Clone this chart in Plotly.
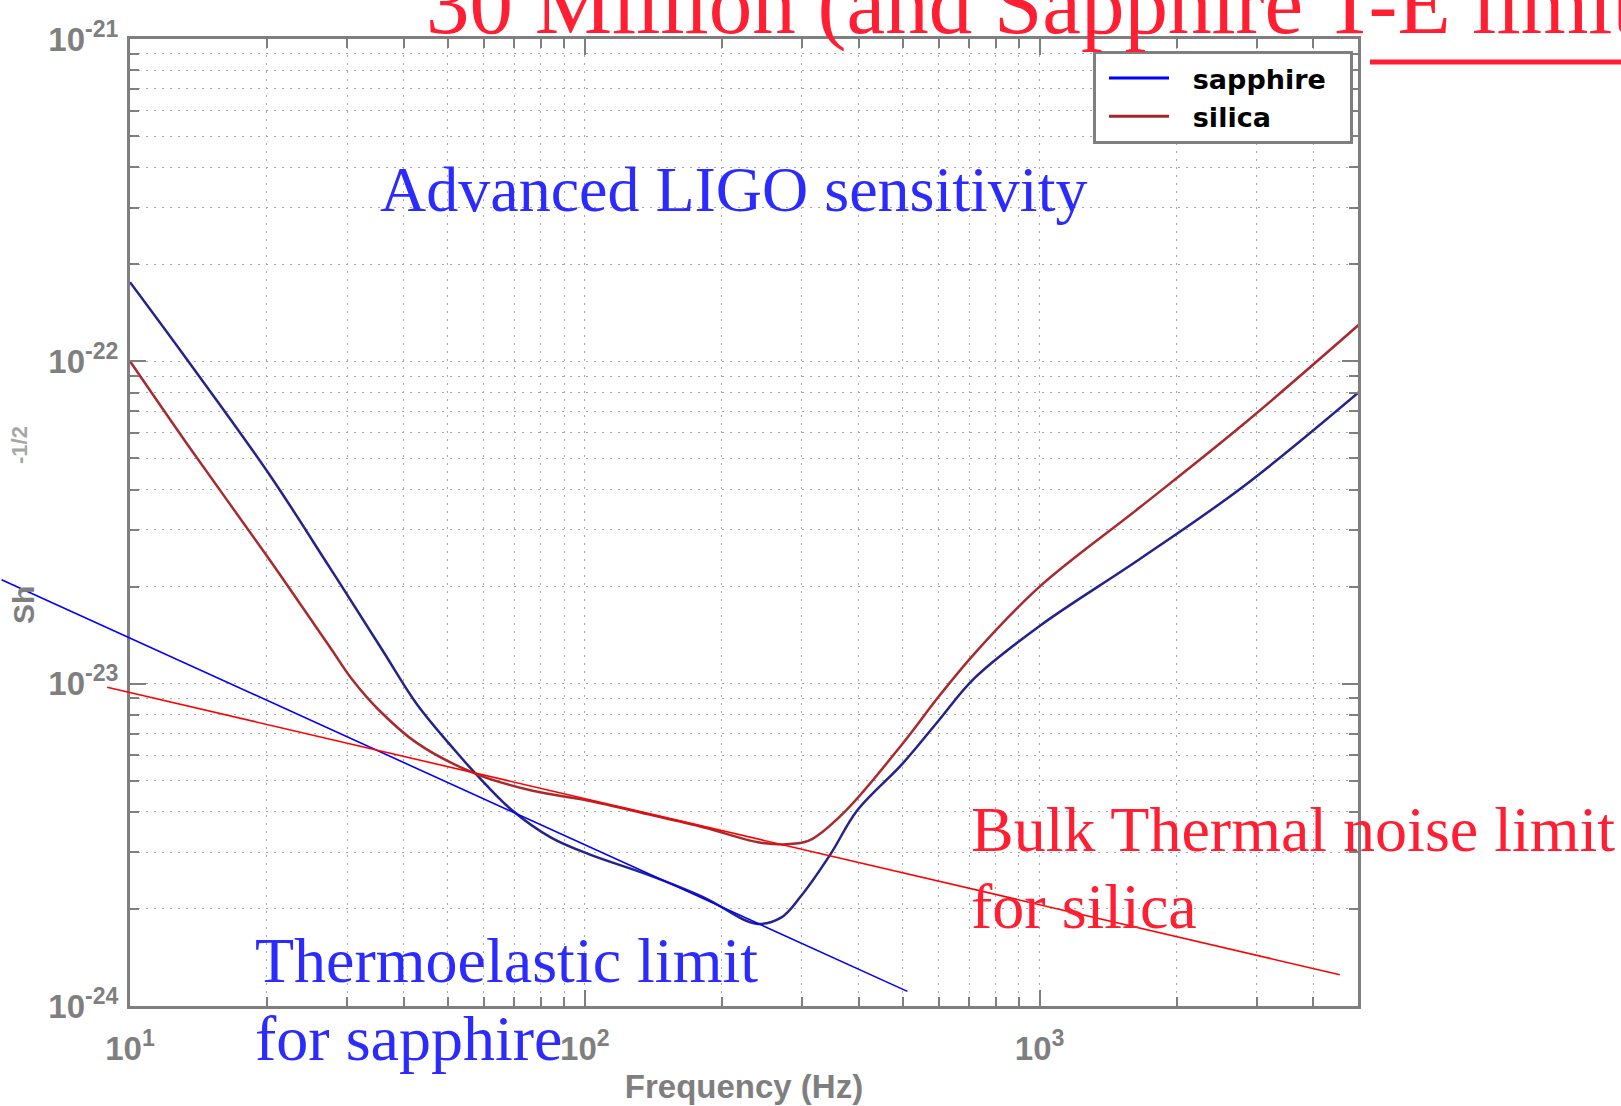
import plotly.graph_objects as go

# ---------------------------------------------------------------- data
# Advanced LIGO strain sensitivity (1/sqrt(Hz)) for the two test-mass materials
freq_sapphire = [10, 13.1, 20.2, 27.5, 35.9, 42.7, 51.9, 57.6, 69.3, 84.3, 102, 137,
                 183, 238, 270, 297, 347, 397, 499, 600, 719, 1000, 1664, 2805, 5070]
h_sapphire = [1.76e-22, 1.05e-22, 4.48e-23, 2.29e-23, 1.27e-23, 8.65e-24, 6.19e-24,
              5.25e-24, 4.04e-24, 3.33e-24, 2.96e-24, 2.56e-24, 2.17e-24, 1.80e-24,
              1.88e-24, 2.17e-24, 2.96e-24, 4.04e-24, 5.64e-24, 7.69e-24, 1.04e-23,
              1.51e-23, 2.44e-23, 4.09e-23, 8.09e-23]

freq_silica = [10, 13.4, 20.2, 27.6, 30.8, 35.2, 42.7, 57.6, 76.4, 102, 137, 183, 244,
               291, 315, 375, 499, 600, 719, 1000, 1664, 2805, 5070]
h_silica = [1.0e-22, 5.5e-23, 2.44e-23, 1.29e-23, 1.03e-23, 8.3e-24, 6.55e-24,
            5.25e-24, 4.66e-24, 4.33e-24, 3.94e-24, 3.58e-24, 3.21e-24, 3.19e-24,
            3.29e-24, 4.04e-24, 6.50e-24, 9.12e-24, 1.24e-23, 2.0e-23, 3.53e-23,
            6.38e-23, 1.31e-22]

# straight-line noise limits
freq_te_limit = [5.22, 512]
h_te_limit = [2.10e-23, 1.11e-24]
freq_bulk_limit = [8.91, 4571]
h_bulk_limit = [9.75e-24, 1.25e-24]

# axis ticks
x_tick_vals = [10, 100, 1000]
x_tick_text = ["10<sup>1</sup>", "10<sup>2</sup>", "10<sup>3</sup>"]
y_tick_vals = [1e-24, 1e-23, 1e-22, 1e-21]
y_tick_text = ["10<sup>-24</sup>", "10<sup>-23</sup>", "10<sup>-22</sup>", "10<sup>-21</sup>"]
x_minor_vals = [k * 10 ** e for e in (1, 2, 3) for k in range(2, 10) if k * 10 ** e <= 5000]
y_minor_vals = [k * 10.0 ** e for e in (-24, -23, -22) for k in range(2, 10)]

# ---------------------------------------------------------------- layout geometry
W, H = 1621, 1106
PLOT_L, PLOT_R, PLOT_T, PLOT_B = 130, 1358, 39, 1006
X_RANGE = [1.0, 3.70]
Y_RANGE = [-24.0, -21.0]
dom_x = [PLOT_L / W, PLOT_R / W]
dom_y = [1 - PLOT_B / H, 1 - PLOT_T / H]


def page_range(r, d):
    """Extend an axis range so that the same scale spans the whole page."""
    span = (r[1] - r[0]) / (d[1] - d[0])
    return [r[0] - d[0] * span, r[1] + (1 - d[1]) * span]


GRAY = "#7f7f7f"
GRID = "#a8a8a8"
RED = "#ff1e32"
BLUE_TXT = "#2b2bff"
SERIF = "Liberation Serif, Times New Roman, serif"
SANS = "Liberation Sans, Arial, sans-serif"
NBSP = "\u00a0"

fig = go.Figure()

fig.add_trace(go.Scatter(x=freq_sapphire, y=h_sapphire, mode="lines", showlegend=False,
                         line=dict(color="#23238c", width=2.5, shape="spline", smoothing=1.0),
                         xaxis="x", yaxis="y"))
fig.add_trace(go.Scatter(x=freq_silica, y=h_silica, mode="lines", showlegend=False,
                         line=dict(color="#a82a2e", width=2.5, shape="spline", smoothing=1.0),
                         xaxis="x", yaxis="y"))

# legend entries
fig.add_trace(go.Scatter(x=[None], y=[None], mode="lines",
                         name=NBSP * 2 + "sapphire" + NBSP * 2,
                         line=dict(color="#0000ff", width=3), xaxis="x", yaxis="y"))
fig.add_trace(go.Scatter(x=[None], y=[None], mode="lines", name=NBSP * 2 + "silica",
                         line=dict(color="#a0282d", width=3), xaxis="x", yaxis="y"))

# limit lines live on a page-wide copy of the axes so they can run past the frame
fig.add_trace(go.Scatter(x=freq_te_limit, y=h_te_limit, mode="lines", showlegend=False,
                         line=dict(color="#0000ff", width=1.6), xaxis="x2", yaxis="y2"))
fig.add_trace(go.Scatter(x=freq_bulk_limit, y=h_bulk_limit, mode="lines", showlegend=False,
                         line=dict(color="#ff0000", width=1.6), xaxis="x2", yaxis="y2"))

axis_common = dict(
    type="log", showline=True, linecolor=GRAY, linewidth=3, mirror="allticks",
    ticks="inside", ticklen=16, tickwidth=2, tickcolor=GRAY,
    showgrid=True, gridcolor=GRID, gridwidth=1, griddash="2px,6px",
    zeroline=False, automargin=False,
    tickfont=dict(family=SANS, size=33, color=GRAY, weight="bold"),
    tickmode="array",
)
minor_common = dict(tickmode="array", ticks="inside", ticklen=9, tickwidth=2,
                    tickcolor=GRAY, showgrid=True, gridcolor=GRID, gridwidth=1,
                    griddash="2px,6px")

fig.update_layout(
    width=W, height=H, autosize=False,
    margin=dict(l=0, r=0, t=0, b=0),
    paper_bgcolor="white", plot_bgcolor="rgba(0,0,0,0)",
    xaxis=dict(axis_common, domain=dom_x, range=X_RANGE,
               tickvals=x_tick_vals, ticktext=x_tick_text, ticklabelstandoff=11,
               minor=dict(minor_common, tickvals=x_minor_vals),
               title=dict(text="Frequency (Hz)", standoff=10,
                          font=dict(family=SANS, size=33, color=GRAY, weight="bold"))),
    yaxis=dict(axis_common, domain=dom_y, range=Y_RANGE,
               tickvals=y_tick_vals, ticktext=y_tick_text, ticklabelstandoff=2,
               minor=dict(minor_common, tickvals=y_minor_vals)),
    xaxis2=dict(type="log", domain=[0, 1], range=page_range(X_RANGE, dom_x),
                visible=False, anchor="y2"),
    yaxis2=dict(type="log", domain=[0, 1], range=page_range(Y_RANGE, dom_y),
                visible=False, anchor="x2"),
    legend=dict(x=1093 / W, y=1 - 51 / H, xanchor="left", yanchor="top",
                bgcolor="white", bordercolor=GRAY, borderwidth=3, itemwidth=60,
                indentation=8, tracegroupgap=0,
                font=dict(family="DejaVu Sans", size=27, color="black", weight="bold")),
    showlegend=True,
)

annotations = [
    dict(text="30 Million (and Sapphire T-E limit)", x=424 / W, y=1 - 4 / H,
         font=dict(family=SERIF, size=87, color=RED)),
    dict(text="Advanced LIGO sensitivity", x=378 / W, y=1 - 189 / H,
         font=dict(family=SERIF, size=64, color=BLUE_TXT)),
    dict(text="Thermoelastic limit", x=253 / W, y=1 - 960.4 / H,
         font=dict(family=SERIF, size=64, color=BLUE_TXT)),
    dict(text="for sapphire", x=253 / W, y=1 - 1038.4 / H,
         font=dict(family=SERIF, size=64, color=BLUE_TXT)),
    dict(text="Bulk Thermal noise limit", x=969 / W, y=1 - 829.4 / H,
         font=dict(family=SERIF, size=64, color=RED)),
    dict(text="for silica", x=969 / W, y=1 - 906 / H,
         font=dict(family=SERIF, size=64, color=RED)),
    dict(text="Sh", x=23 / W, y=1 - 605 / H, textangle=-90,
         font=dict(family=SANS, size=30, color=GRAY, weight="bold")),
    dict(text="-1/2", x=19 / W, y=1 - 445 / H, textangle=-90,
         font=dict(family=SANS, size=22, color="#a6a6a6", weight="bold")),
]
for a in annotations:
    a.update(xref="paper", yref="paper", showarrow=False, yanchor="middle",
             xanchor="center" if a.get("textangle") else "left")
fig.update_layout(annotations=annotations)

fig.add_shape(type="line", xref="paper", yref="paper",
              x0=1370 / W, x1=1.0, y0=1 - 62 / H, y1=1 - 62 / H,
              line=dict(color=RED, width=5))

fig.write_html("out.html")
